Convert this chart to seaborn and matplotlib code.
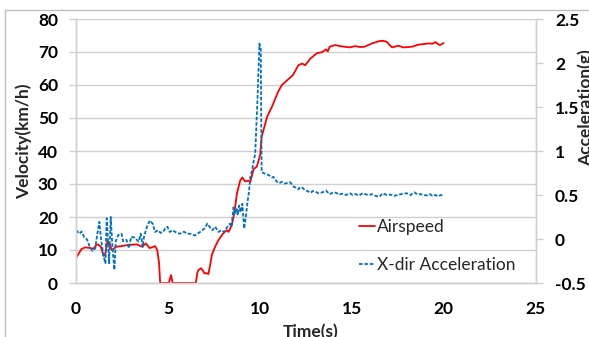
import numpy as np
import pandas as pd
import seaborn as sns
import matplotlib.pyplot as plt
from matplotlib.patches import Rectangle

# airspeed (km/h)
t_air = [0, 0.3, 0.5, 0.76, 0.95, 1.1, 1.2, 1.35, 1.5, 1.6, 1.7, 1.82, 1.95, 2.1, 2.2, 2.5,
         2.8, 3.0, 3.3, 3.6, 3.7, 3.8, 4.0, 4.15, 4.3, 4.42, 4.52, 4.58, 4.9, 5.05, 5.12, 5.17,
         5.22, 5.25, 6.52, 6.6, 6.66, 6.8, 6.9, 6.99, 7.1, 7.2, 7.3, 7.39, 7.57, 7.75, 8.0, 8.2,
         8.3, 8.48, 8.57, 8.66, 8.75, 8.93, 9.05, 9.2, 9.4, 9.48, 9.66, 9.84, 10.02, 10.1, 10.4,
         10.66, 11.0, 11.2, 11.5, 11.8, 12.1, 12.3, 12.47, 12.75, 13.1, 13.4, 13.6, 13.7, 13.8,
         14.1, 14.35, 14.6, 14.9, 15.2, 15.45, 15.7, 16.1, 16.5, 16.7, 16.9, 17.05, 17.2, 17.4,
         17.55, 17.8, 18.1, 18.36, 18.6, 18.9, 19.2, 19.4, 19.55, 19.7, 19.8, 20.0]
airspeed = [7.6, 10.3, 10.8, 10.6, 10.4, 11.5, 11.7, 11.0, 8.2, 9.0, 12.5, 11.8, 10.0, 10.6, 11.0, 11.2,
            11.5, 11.6, 11.7, 11.0, 11.5, 12.0, 10.6, 10.8, 11.2, 10.0, 6.0, 0, 0, 0, 1.5, 2.4,
            1.0, 0, 0, 3.0, 3.9, 4.5, 3.8, 2.9, 3.0, 2.7, 5.5, 8.5, 11.0, 13.0, 15.0, 16.0,
            15.5, 17.6, 20.0, 23.0, 27.0, 31.0, 32.0, 30.8, 31.0, 30.5, 34.5, 35.3, 38.8, 44.3, 50.4,
            53.4, 58.0, 60.0, 61.5, 63.0, 66.0, 66.5, 66.0, 68.0, 69.6, 70.0, 70.8, 70.2, 71.6,
            72.1, 71.8, 71.6, 71.4, 71.8, 71.5, 71.6, 72.6, 73.3, 73.4, 73.1, 72.2, 71.4, 71.7,
            71.9, 71.4, 71.5, 71.7, 72.2, 72.4, 72.6, 72.5, 73.0, 72.4, 72.1, 72.7]

# x-direction acceleration (g)
t_acc = [0.0, 0.2, 0.3, 0.45, 0.6, 0.75, 0.9, 1.05, 1.15, 1.27, 1.35, 1.5, 1.6, 1.67, 1.75, 1.8,
         1.89, 1.98, 2.09, 2.16, 2.3, 2.48, 2.56, 2.75, 2.88, 3.0, 3.2, 3.4, 3.52, 3.63, 3.7, 3.89,
         4.03, 4.17, 4.3, 4.46, 4.6, 4.74, 4.85, 4.97, 5.1, 5.25, 5.4, 5.55, 5.66, 5.8, 5.9, 6.05,
         6.2, 6.35, 6.48, 6.6, 6.75, 6.99, 7.15, 7.26, 7.42, 7.57, 7.75, 7.9, 8.06, 8.24, 8.37,
         8.46, 8.57, 8.66, 8.75, 8.8, 8.87, 8.96, 9.05, 9.15, 9.24, 9.33, 9.42, 9.48, 9.58, 9.66,
         9.75, 9.88, 9.98, 10.05, 10.1, 10.25, 10.38, 10.5, 10.65, 10.75, 10.93, 11.07, 11.2,
         11.35, 11.47, 11.65, 11.84, 12.0, 12.1, 12.2, 12.3, 12.47, 12.6, 12.75, 12.9, 13.0, 13.2,
         13.4, 13.6, 13.8, 14.0, 14.15, 14.3, 14.5, 14.7, 14.9, 15.05, 15.2, 15.4, 15.6, 15.8,
         15.96, 16.1, 16.3, 16.5, 16.7, 16.9, 17.1, 17.3, 17.5, 17.7, 18.0, 18.2, 18.4, 18.6,
         18.75, 18.9, 19.1, 19.25, 19.4, 19.55, 19.7, 19.85, 20.0]
accel = [0.10, 0.06, 0.085, 0.02, -0.005, -0.09, -0.135, -0.105, 0.045, 0.195, 0.02, -0.2, -0.275, 0.235, -0.05, -0.275,
         0.25, -0.09, -0.35, -0.025, 0.045, 0.06, -0.025, -0.01, -0.105, 0.025, 0.015, -0.03, 0.06, -0.09, 0.025, 0.16,
         0.21, 0.175, 0.08, 0.10, 0.07, 0.08, 0.12, 0.14, 0.08, 0.10, 0.08, 0.065, 0.06, 0.08, 0.08, 0.06,
         0.06, 0.05, 0.04, 0.06, 0.08, 0.12, 0.175, 0.14, 0.10, 0.14, 0.08, 0.10, 0.08, 0.14, 0.175,
         0.14, 0.36, 0.29, 0.34, 0.27, 0.38, 0.305, 0.40, 0.12, 0.25, 0.42, 0.55, 0.70, 0.78, 0.88,
         0.97, 1.62, 2.22, 2.16, 0.76, 0.745, 0.735, 0.725, 0.70, 0.705, 0.65, 0.636, 0.65,
         0.63, 0.636, 0.645, 0.595, 0.58, 0.565, 0.59, 0.585, 0.555, 0.545, 0.525, 0.545, 0.54, 0.52,
         0.53, 0.55, 0.51, 0.53, 0.525, 0.505, 0.515, 0.50, 0.52, 0.50, 0.51, 0.495, 0.52, 0.505,
         0.50, 0.51, 0.49, 0.48, 0.52, 0.50, 0.505, 0.49, 0.50, 0.51, 0.52, 0.50, 0.53, 0.505,
         0.51, 0.50, 0.495, 0.51, 0.49, 0.50, 0.485, 0.50, 0.49]

x_ticks = [0, 5, 10, 15, 20, 25]
v_ticks = [0, 10, 20, 30, 40, 50, 60, 70, 80]
g_ticks = [-0.5, 0, 0.5, 1, 1.5, 2, 2.5]
g_labels = ['-0.5', '0', '0.5', '1', '1.5', '2', '2.5']

df_air = pd.DataFrame({'t': t_air, 'v': airspeed})
df_acc = pd.DataFrame({'t': t_acc, 'g': accel})

sns.set_theme(style='white')
plt.rcParams['font.family'] = ['Lato', 'DejaVu Sans']

grid_c = '#D0D0D0'
fig = plt.figure(figsize=(5.89, 3.37), dpi=100)
ax = fig.add_axes([76/589, 1-283/337, (535.5-76)/589, (283-19)/337])
ax2 = ax.twinx()

sns.lineplot(data=df_air, x='t', y='v', ax=ax, color='#FF0000', linewidth=1.3,
             label='Airspeed', legend=False)
sns.lineplot(data=df_acc, x='t', y='g', ax=ax2, color='#0070C0', linewidth=1.3,
             linestyle=(0, (2, 1)), label='X-dir Acceleration', legend=False)

ax.set_xlim(0, 25)
ax.set_ylim(0, 80)
ax2.set_ylim(-0.5, 2.5)
ax.set_xticks(x_ticks)
ax.set_yticks(v_ticks)
ax2.set_yticks(g_ticks)
ax2.set_yticklabels(g_labels)

for a in (ax, ax2):
    for s in a.spines.values():
        s.set_color(grid_c)
        s.set_linewidth(1)
    a.spines['top'].set_visible(False)
ax.yaxis.grid(True, color=grid_c, linewidth=1)
ax.set_axisbelow(True)

tick_kw = dict(length=5, width=1, color=grid_c, labelsize=12.5, labelcolor='black')
ax.tick_params(axis='x', direction='out', pad=8, **tick_kw)
ax.tick_params(axis='y', direction='out', pad=8, **tick_kw)
ax2.tick_params(axis='y', direction='out', pad=9, **tick_kw)
for lab in ax.get_xticklabels() + ax.get_yticklabels() + ax2.get_yticklabels():
    lab.set_fontweight('bold')

ax.set_xlabel('')
ax.set_ylabel('')
ax2.set_ylabel('')
fig.text(24/589, 1-141/337, 'Velocity(km/h)', rotation=90, ha='center', va='center',
         fontsize=12.5, fontweight='bold')
fig.text(586/589, 1-108/337, 'Acceleration(g)', rotation=90, ha='center', va='center',
         fontsize=12.5, fontweight='bold')
fig.text(311/589, 1-332/337, 'Time(s)', ha='center', va='center',
         fontsize=12.5, fontweight='bold')

h1, l1 = ax.get_legend_handles_labels()
h2, l2 = ax2.get_legend_handles_labels()
ax2.legend(h1 + h2, l1 + l2, loc='upper left', bbox_to_anchor=(359/589, 1-219/337),
           bbox_transform=fig.transFigure, frameon=False, fontsize=12.5,
           handlelength=0.9, handletextpad=0.15, labelspacing=1.25, borderpad=0,
           borderaxespad=0)

fig.patches.append(Rectangle((5/589, -0.1), 1.2, 1-10/337+0.1, transform=fig.transFigure,
                             fill=False, edgecolor='#BFBFBF', linewidth=1))

fig.savefig('out.png', dpi=100)
